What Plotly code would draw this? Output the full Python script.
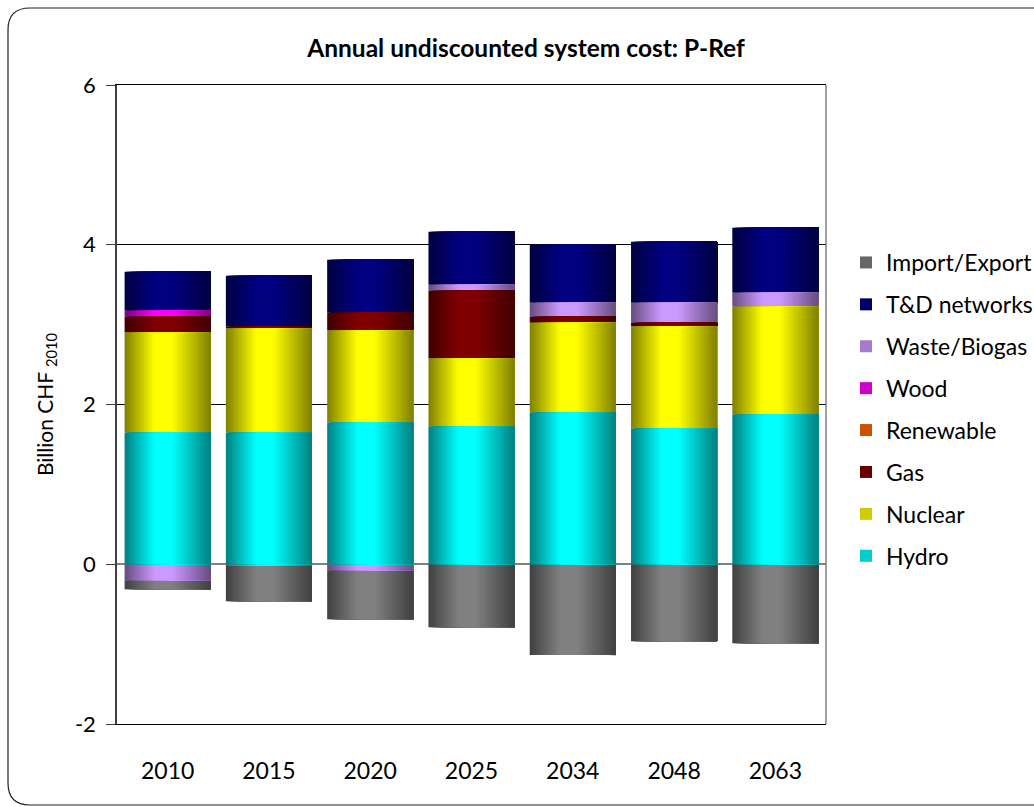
import plotly.graph_objects as go

# ---- data (billion CHF 2010) ----
years = ["2010", "2015", "2020", "2025", "2034", "2048", "2063"]
hydro = [1.65, 1.65, 1.775, 1.725, 1.9, 1.7, 1.875]
nuclear = [1.25, 1.3, 1.15, 0.85, 1.125, 1.275, 1.35]
gas = [0.2, 0.025, 0.225, 0.85, 0.075, 0.05, 0.0]
renewable = [0.0, 0.0, 0.0, 0.0, 0.0, 0.0, 0.0]
wood = [0.075, 0.0, 0.0, 0.0, 0.0, 0.0, 0.0]
waste_biogas = [-0.2, -0.02, -0.075, 0.075, 0.175, 0.25, 0.175]
td_networks = [0.4875, 0.6375, 0.6625, 0.6625, 0.725, 0.7625, 0.8125]
import_export = [-0.1125, -0.4425, -0.6125, -0.7875, -1.1375, -0.9625, -0.9875]

y_ticks = [-2, 0, 2, 4, 6]
y_tick_text = ["-2", "0", "2", "4", "6"]

# stacking order (bottom -> top) with full-brightness colours
stack = [
    ("Hydro", hydro, (0, 255, 255)),
    ("Nuclear", nuclear, (255, 255, 0)),
    ("Gas", gas, (128, 0, 0)),
    ("Renewable", renewable, (255, 102, 0)),
    ("Wood", wood, (255, 0, 255)),
    ("Waste/Biogas", waste_biogas, (204, 153, 255)),
    ("T&D networks", td_networks, (0, 0, 128)),
    ("Import/Export", import_export, (128, 128, 128)),
]
legend_order = ["Import/Export", "T&D networks", "Waste/Biogas", "Wood",
                "Renewable", "Gas", "Nuclear", "Hydro"]

# ---- bases for a relative stack (positives up, negatives down) ----
pos = [0.0] * len(years)
neg = [0.0] * len(years)
bases = {}
for name, vals, _ in stack:
    b = []
    for i, v in enumerate(vals):
        if v >= 0:
            b.append(pos[i]); pos[i] += v
        else:
            b.append(neg[i]); neg[i] += v
    bases[name] = b

# ---- horizontal shading across each bar ----
BAR_W = 0.85
N_SLICES = 40
LEGEND_SLICE = 8


def shade(t):
    # brightness factor across the bar: dark edges, bright just left of centre
    if t < 0.35:
        return 0.5 + 0.5 * t / 0.35
    if t < 0.55:
        return 1.0
    return 1.0 - 0.5 * (t - 0.55) / 0.45


def rgb(c, f):
    return "rgb(%d,%d,%d)" % tuple(round(v * f) for v in c)


fig = go.Figure()
lookup = {s[0]: s for s in stack}
for name in legend_order:
    _, vals, col = lookup[name]
    step = BAR_W / N_SLICES
    for k in range(N_SLICES):
        t = (k + 0.5) / N_SLICES
        # each slice runs to the right edge; later slices paint over earlier ones
        fig.add_trace(go.Bar(
            x=years, y=vals, base=bases[name],
            offset=-BAR_W / 2 + k * step, width=BAR_W - k * step,
            marker=dict(color=rgb(col, shade(t)), line=dict(width=0)),
            name=name, legendgroup=name,
            showlegend=(k == LEGEND_SLICE),
            hovertemplate="%{x}: %{y:.2f}<extra>" + name + "</extra>",
        ))

# ---- layout helpers (pixel -> paper) ----
L, R, T, B = 117, 826, 85, 724
W, H = 1034, 807


def px(xp):
    return (xp - L) / (R - L)


def py(yp):
    return 1 - (yp - T) / (B - T)


x0, x1, y0, y1, r = px(8), px(1070), py(8), py(805), 22
rx, ry = r / (R - L), r / (B - T)
border = (f"M{x0 + rx},{y0} L{x1 - rx},{y0} Q{x1},{y0} {x1},{y0 - ry} "
          f"L{x1},{y1 + ry} Q{x1},{y1} {x1 - rx},{y1} L{x0 + rx},{y1} "
          f"Q{x0},{y1} {x0},{y1 + ry} L{x0},{y0 - ry} Q{x0},{y0} {x0 + rx},{y0} Z")

FONT = "Lato, Carlito, Calibri, sans-serif"

fig.update_layout(
    width=W, height=H,
    margin=dict(l=L, r=W - R, t=T, b=H - B, autoexpand=False),
    paper_bgcolor="white", plot_bgcolor="white",
    barmode="overlay", bargap=0.15,
    font=dict(family=FONT, size=22, color="black"),
    title=dict(text="<b>Annual undiscounted system cost: P-Ref</b>",
               font=dict(family=FONT, size=24.5, color="black"),
               x=px(526), xref="paper", xanchor="center",
               y=1 - 48 / H, yref="container", yanchor="middle"),
    xaxis=dict(type="category", showgrid=False, showline=True, mirror=True,
               linecolor="black", linewidth=1, ticks="",
               ticklabelstandoff=26, tickfont=dict(size=23),
               fixedrange=True),
    yaxis=dict(range=[-2, 6], tickmode="array", tickvals=y_ticks,
               ticktext=y_tick_text, showgrid=True,
               gridcolor="black", gridwidth=1,
               zeroline=True, zerolinecolor="#808080", zerolinewidth=1.5,
               showline=True, linecolor="#404040", linewidth=1.5,
               ticks="outside", ticklen=9, tickcolor="#404040",
               ticklabelstandoff=6, tickfont=dict(size=22),
               title=dict(text="Billion CHF <sub>2010</sub>",
                          font=dict(size=21), standoff=16),
               automargin=False, fixedrange=True),
    legend=dict(x=px(846), y=py(241), xanchor="left", yanchor="top",
                traceorder="grouped", tracegroupgap=9,
                font=dict(family=FONT, size=23),
                bgcolor="rgba(0,0,0,0)", itemclick=False),
    shapes=[
        dict(type="line", xref="paper", yref="paper", x0=1, x1=1, y0=0, y1=1,
             line=dict(color="#808080", width=1.5), layer="above"),
        dict(type="path", xref="paper", yref="paper", path=border,
             line=dict(color="#222222", width=1.2), layer="above"),
    ],
)

fig.write_html("out.html")
